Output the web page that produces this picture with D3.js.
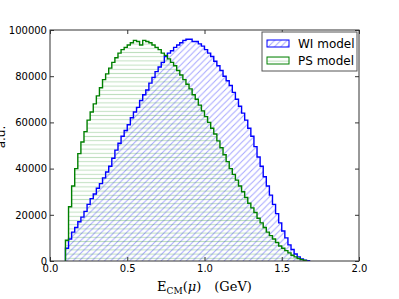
<!DOCTYPE html>
<html>
<head>
<meta charset="utf-8">
<script src="https://cdn.jsdelivr.net/npm/d3@7"></script>
<style>
  body { margin: 0; background: #fff; }
</style>
</head>
<body>
<div id="chart"></div>
<script>
// bin left edges (GeV), width 0.02
const binStart = 0.10;
const binWidth = 0.02;

// WI model counts per bin
const wiCounts = [
  5500, 9500, 12500, 14500, 17000, 19000, 21500, 24500, 27000, 29000,
  31500, 33500, 36000, 38500, 41000, 44500, 48000, 51000, 54000, 56500,
  59000, 62000, 64500, 66500, 69500, 72000, 74000, 77000, 79500, 82000,
  84000, 86000, 88500, 90000, 91000, 92500, 93500, 94500, 95500, 96000,
  96000, 95000, 95000, 94000, 93000, 91500, 90000, 88500, 86500, 84500,
  82500, 80000, 78000, 76000, 73000, 70000, 67000, 64000, 61000, 57500,
  54000, 49500, 45000, 41000, 36500, 32500, 28500, 24500, 20500, 16500,
  13000, 10000, 7000, 5000, 3000, 1800, 900, 400, 100
];

// PS model counts per bin
const psCounts = [
  9000, 23500, 32500, 40000, 46500, 51500, 56000, 61000, 64500, 68000,
  71500, 75000, 78500, 81000, 83500, 86000, 88000, 90000, 91500, 92500,
  93500, 94500, 95500, 95000, 93500, 95500, 95000, 94500, 93500, 92500,
  91500, 90000, 89000, 87500, 86000, 84500, 82500, 80500, 78500, 76500,
  74500, 72000, 70000, 67500, 65000, 62500, 60000, 57500, 55000, 52000,
  49000, 46000, 43000, 40000, 37500, 35000, 32500, 30000, 27500, 25000,
  23000, 21000, 18500, 16500, 14500, 12500, 11000, 9500, 8000, 6500,
  5500, 4500, 3500, 2500, 1800, 1100, 600, 200
];

const xTicks = [0.0, 0.5, 1.0, 1.5, 2.0];
const yTicks = [0, 20000, 40000, 60000, 80000, 100000];
const seriesNames = ['WI model', 'PS model'];

const W = 399, H = 299;
const m = {left: 50, right: 40, top: 30, bottom: 38};
const iw = W - m.left - m.right;
const ih = H - m.top - m.bottom;

const svg = d3.select('#chart').append('svg')
    .attr('width', W)
    .attr('height', H)
    .attr('font-family', 'DejaVu Sans, sans-serif');

const x = d3.scaleLinear().domain([0, 2]).range([m.left, m.left + iw]);
const y = d3.scaleLinear().domain([0, 100000]).range([m.top + ih, m.top]);

// hatch patterns
const defs = svg.append('defs');
const s = 6.3;
defs.append('pattern')
    .attr('id', 'hatchBlue')
    .attr('patternUnits', 'userSpaceOnUse')
    .attr('width', s).attr('height', s)
  .append('path')
    .attr('d', `M0,${s} L${s},0 M${-s / 2},${s / 2} L${s / 2},${-s / 2} M${s / 2},${s * 1.5} L${s * 1.5},${s / 2}`)
    .attr('stroke', 'rgba(0,0,255,0.35)')
    .attr('stroke-width', 1);

const g = 4.2;
defs.append('pattern')
    .attr('id', 'hatchGreen')
    .attr('patternUnits', 'userSpaceOnUse')
    .attr('width', 8).attr('height', g)
  .append('path')
    .attr('d', `M0,${g / 2} L8,${g / 2}`)
    .attr('stroke', 'rgba(0,128,0,0.25)')
    .attr('stroke-width', 1);

defs.append('clipPath').attr('id', 'plotClip')
  .append('rect')
    .attr('x', m.left).attr('y', m.top)
    .attr('width', iw).attr('height', ih);

function stepPoints(counts) {
    const pts = [[binStart, 0]];
    counts.forEach((v, i) => {
        const x0 = binStart + i * binWidth;
        pts.push([x0, v], [x0 + binWidth, v]);
    });
    pts.push([binStart + counts.length * binWidth, 0]);
    return pts;
}

const line = d3.line().x(d => x(d[0])).y(d => y(d[1]));

const series = [
    {name: seriesNames[0], counts: wiCounts, color: '#0000ff', hatch: 'url(#hatchBlue)'},
    {name: seriesNames[1], counts: psCounts, color: '#008000', hatch: 'url(#hatchGreen)'},
];

const plot = svg.append('g').attr('clip-path', 'url(#plotClip)');

series.forEach(d => {
    plot.append('path')
        .attr('d', line(stepPoints(d.counts)) + 'Z')
        .attr('fill', d.hatch)
        .attr('stroke', 'none');
});
series.forEach(d => {
    plot.append('path')
        .attr('d', line(stepPoints(d.counts)))
        .attr('fill', 'none')
        .attr('stroke', d.color)
        .attr('stroke-width', 1.4)
        .attr('stroke-linejoin', 'miter');
});

// axes, ticks pointing inward
const fmtX = d3.format('.1f');
const fmtY = d3.format('d');

svg.append('g')
    .attr('transform', `translate(0,${m.top + ih})`)
    .call(d3.axisBottom(x).tickValues(xTicks).tickFormat(fmtX).tickSizeInner(-4).tickSizeOuter(0).tickPadding(4))
    .call(a => a.select('.domain').remove());

svg.append('g')
    .attr('transform', `translate(0,${m.top})`)
    .call(d3.axisTop(x).tickValues(xTicks).tickFormat('').tickSizeInner(-4).tickSizeOuter(0))
    .call(a => a.select('.domain').remove());

svg.append('g')
    .attr('transform', `translate(${m.left},0)`)
    .call(d3.axisLeft(y).tickValues(yTicks).tickFormat(fmtY).tickSizeInner(-4).tickSizeOuter(0).tickPadding(3))
    .call(a => a.select('.domain').remove());

svg.append('g')
    .attr('transform', `translate(${m.left + iw},0)`)
    .call(d3.axisRight(y).tickValues(yTicks).tickFormat('').tickSizeInner(-4).tickSizeOuter(0))
    .call(a => a.select('.domain').remove());

svg.selectAll('.tick text')
    .attr('font-size', 10)
    .attr('font-family', 'DejaVu Sans, sans-serif')
    .attr('fill', '#000');
svg.selectAll('.tick line').attr('stroke', '#333');

// frame
svg.append('rect')
    .attr('x', m.left).attr('y', m.top)
    .attr('width', iw).attr('height', ih)
    .attr('fill', 'none')
    .attr('stroke', '#333')
    .attr('stroke-width', 1);

// axis labels
const xl = svg.append('text')
    .attr('x', m.left + iw / 2)
    .attr('y', 291)
    .attr('text-anchor', 'middle')
    .attr('font-family', 'DejaVu Serif, serif')
    .attr('font-size', 13);
xl.append('tspan').text('E');
xl.append('tspan').attr('font-size', 9).attr('dy', 3).text('CM');
xl.append('tspan').attr('dy', -3).text('(');
xl.append('tspan').attr('font-style', 'italic').text('μ');
xl.append('tspan').text(')\u2002\u2002(GeV)');

svg.append('text')
    .attr('transform', 'translate(5,137) rotate(-90)')
    .attr('text-anchor', 'middle')
    .attr('font-size', 12)
    .text('a.u.');

// legend
const leg = svg.append('g');
leg.append('rect')
    .attr('x', 262).attr('y', 32)
    .attr('width', 95).attr('height', 39)
    .attr('fill', '#fff')
    .attr('stroke', '#555')
    .attr('stroke-width', 1);

const legItems = leg.selectAll('g.item')
    .data(series).enter()
    .append('g')
    .attr('class', 'item')
    .attr('transform', (d, i) => `translate(0,${i * 17})`);

legItems.append('rect')
    .attr('x', 267).attr('y', 40)
    .attr('width', 22).attr('height', 7)
    .attr('fill', d => d.hatch)
    .attr('stroke', d => d.color)
    .attr('stroke-width', 1);

legItems.append('text')
    .attr('x', 298)
    .attr('y', 47.5)
    .attr('font-size', 12)
    .text(d => d.name);
</script>
</body>
</html>
